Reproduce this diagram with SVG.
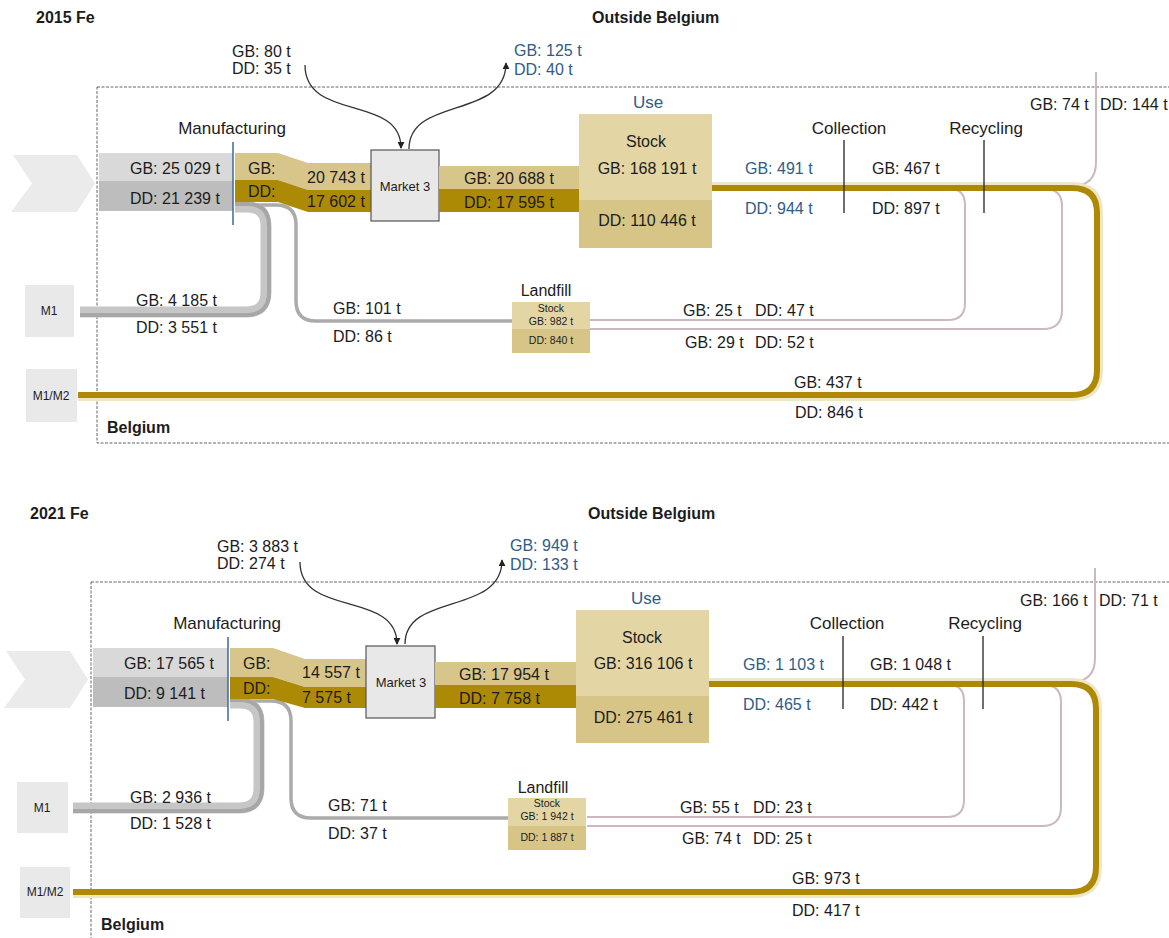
<svg xmlns="http://www.w3.org/2000/svg" width="1169" height="938" viewBox="0 0 1169 938">
<defs>
<style>
.t{font-family:"Liberation Sans",Arial,sans-serif;font-size:16px;fill:#1c1c1c;dominant-baseline:central}
.b{font-weight:bold;font-size:16px}
.blue{fill:#2f5c86}
.h{font-size:17px}
.m{font-size:13px}
.s{font-size:10.5px}
.bx{font-size:12px}
.mid{text-anchor:middle}
.gb{fill:#d8c58a}
.dd{fill:#ad8a06}
.useU{fill:#e3d6a4}
.useL{fill:#d6c587}
.grayGB{fill:#d9d9d9}
.grayDD{fill:#bdbdbd}
.chev{fill:#ebebeb}
.mbox{fill:#e9e9e9}
.market{fill:#e8e8e8;stroke:#555;stroke-width:1.2}
.dash{fill:none;stroke:#666;stroke-width:1;stroke-dasharray:3 1.5}
.pink{fill:none;stroke:#cbb8c1;stroke-width:2}
.gold{fill:none;stroke:#ad8905;stroke-width:6}
.halo{fill:none;stroke:#ede7c6;stroke-width:5}
.grayT{fill:none;stroke:#c6c6c6;stroke-width:11}
.grayD{fill:none;stroke:#a7a7a7;stroke-width:4}
.grayS{fill:none;stroke:#ababab;stroke-width:3.5}
.arc{fill:none;stroke:#333;stroke-width:1.3}
.tick{stroke:#222;stroke-width:1.3}
.bluetick{stroke:#3d6a99;stroke-width:1.5}
</style>
<marker id="ah" viewBox="0 0 8 8" refX="7" refY="4" markerUnits="userSpaceOnUse" markerWidth="7" markerHeight="7" orient="auto">
<path d="M0,0 L8,4 L0,8 z" fill="#222"/>
</marker>
</defs>
<rect width="1169" height="938" fill="#fff"/>

<!-- ===== 2015 ===== -->
<g id="fe2015">
<text class="t b" x="36" y="17">2015 Fe</text>
<text class="t b" x="592" y="17">Outside Belgium</text>
<rect class="dash" x="97" y="87" width="1110" height="356"/>
<text class="t b" x="107" y="427">Belgium</text>

<g id="connectors-2015">
<!-- import / export arcs around Market 3 -->
<path class="arc" d="M305,65 C305,122 401,94 401,148" marker-end="url(#ah)"/>
<path class="arc" d="M409,149 C409,96 506,120 506,63" marker-end="url(#ah)"/>
<!-- export after recycling -->
<path class="pink" d="M1096,72 V162 Q1096,186 1072,186"/>
<!-- returns to landfill -->
<path class="pink" d="M950,189 Q965,189 965,205 V303 Q965,320 948,320 H590"/>
<path class="pink" d="M1045,189 Q1062,189 1062,206 V310 Q1062,329 1043,329 H590"/>
<!-- recycled scrap loop -->
<path class="halo" d="M712,184.5 H1072 Q1100.5,184.5 1100.5,212 V370 Q1100.5,398.5 1072,398.5 H78"/>
<path class="gold" d="M712,188 H1072 Q1097,188 1097,213 V370 Q1097,395 1072,395 H78"/>
<!-- manufacturing losses -->
<path class="grayS" d="M235,205 H276 Q296,205 296,225 V301 Q296,321 316,321 H512"/>
<path class="grayT" d="M235,207 H247 Q266,207 266,226 V292 Q266,312 246,312 H80"/>
<path class="grayD" d="M235,204 H247 Q269,204 269,226 V292 Q269,315 246,315 H80"/>
</g>

<g id="source-2015">
<polygon class="chev" points="13,155 77,155 95,183.5 77,212 11,212 32,183.5"/>
</g>

<g id="manufacturing-2015">
<rect class="grayGB" x="99" y="153" width="134" height="28"/>
<rect class="grayDD" x="99" y="181" width="134" height="30"/>
<text class="t" x="130" y="168">GB: 25 029 t</text>
<text class="t" x="130" y="198">DD: 21 239 t</text>
<line class="bluetick" x1="233" y1="142" x2="233" y2="225"/>
<text class="t h mid" x="232" y="128">Manufacturing</text>
</g>

<g id="flow-mfg-market-2015">
<polygon class="gb" points="235,153 278,153 308,163 371,163 371,190 308,190 278,180 235,180"/>
<polygon class="dd" points="235,180 278,180 308,190 371,190 371,212 308,212 278,202 235,202"/>
<text class="t" x="248" y="168">GB:</text>
<text class="t" x="307" y="177">20 743 t</text>
<text class="t" x="248" y="191">DD:</text>
<text class="t" x="307" y="201">17 602 t</text>
</g>

<g id="market-2015">
<rect class="market" x="371" y="150" width="68" height="71"/>
<text class="t m mid" x="405" y="186">Market 3</text>
<text class="t" x="232" y="51">GB: 80 t</text>
<text class="t" x="232" y="68">DD: 35 t</text>
<text class="t blue" x="514" y="50">GB: 125 t</text>
<text class="t blue" x="514" y="69">DD: 40 t</text>
</g>

<g id="flow-market-use-2015">
<rect class="gb" x="439" y="166" width="140" height="23"/>
<rect class="dd" x="439" y="189" width="140" height="23"/>
<text class="t" x="464" y="178">GB: 20 688 t</text>
<text class="t" x="464" y="202">DD: 17 595 t</text>
</g>

<g id="use-2015">
<rect class="useU" x="579" y="114" width="133" height="86"/>
<rect class="useL" x="579" y="200" width="133" height="48"/>
<text class="t h blue mid" x="648" y="102">Use</text>
<text class="t mid" x="646" y="141">Stock</text>
<text class="t mid" x="647" y="168">GB: 168 191 t</text>
<text class="t mid" x="647" y="220">DD: 110 446 t</text>
</g>

<g id="collection-2015">
<line class="tick" x1="844" y1="140" x2="844" y2="213"/>
<text class="t h mid" x="849" y="128">Collection</text>
<text class="t blue" x="745" y="168">GB: 491 t</text>
<text class="t blue" x="745" y="208">DD: 944 t</text>
</g>

<g id="recycling-2015">
<line class="tick" x1="984" y1="140" x2="984" y2="213"/>
<text class="t h mid" x="986" y="128">Recycling</text>
<text class="t" x="872" y="168">GB: 467 t</text>
<text class="t" x="872" y="208">DD: 897 t</text>
<text class="t" x="1030" y="104">GB: 74 t</text>
<text class="t" x="1100" y="104">DD: 144 t</text>
</g>

<g id="landfill-2015">
<rect class="useU" x="512" y="302" width="78" height="27"/>
<rect class="useL" x="512" y="329" width="78" height="24"/>
<text class="t mid" x="546" y="290">Landfill</text>
<text class="t s mid" x="551" y="308">Stock</text>
<text class="t s mid" x="551" y="321">GB: 982 t</text>
<text class="t s mid" x="551" y="340">DD: 840 t</text>
<text class="t" x="333" y="308">GB: 101 t</text>
<text class="t" x="333" y="336">DD: 86 t</text>
<text class="t" x="683" y="310">GB: 25 t</text>
<text class="t" x="755" y="310">DD: 47 t</text>
<text class="t" x="685" y="342">GB: 29 t</text>
<text class="t" x="755" y="342">DD: 52 t</text>
</g>

<g id="m1-2015">
<rect class="mbox" x="25" y="285" width="49" height="52"/>
<text class="t bx mid" x="49" y="311">M1</text>
<text class="t" x="136" y="300">GB: 4 185 t</text>
<text class="t" x="136" y="327">DD: 3 551 t</text>
</g>

<g id="m1m2-2015">
<rect class="mbox" x="26" y="369" width="51" height="53"/>
<text class="t bx mid" x="51" y="396">M1/M2</text>
<text class="t" x="794" y="382">GB: 437 t</text>
<text class="t" x="795" y="412">DD: 846 t</text>
</g>
</g>

<!-- ===== 2021 ===== -->
<g id="fe2021">
<text class="t b" x="30" y="513">2021 Fe</text>
<text class="t b" x="588" y="513">Outside Belgium</text>
<rect class="dash" x="91" y="582" width="1120" height="400"/>
<text class="t b" x="101" y="924">Belgium</text>

<g id="connectors-2021">
<path class="arc" d="M300,562 C300,618 397,590 397,644" marker-end="url(#ah)"/>
<path class="arc" d="M405,644 C405,592 502,616 502,560" marker-end="url(#ah)"/>
<path class="pink" d="M1095,568 V658 Q1095,682 1071,682"/>
<path class="pink" d="M949,685 Q964,685 964,701 V800 Q964,817 947,817 H587"/>
<path class="pink" d="M1044,685 Q1061,685 1061,702 V807 Q1061,826 1042,826 H587"/>
<path class="halo" d="M709,680.5 H1071 Q1099.5,680.5 1099.5,709 V867 Q1099.5,895.5 1071,895.5 H73"/>
<path class="gold" d="M709,684 H1071 Q1096,684 1096,709 V867 Q1096,892 1071,892 H73"/>
<path class="grayS" d="M230,701 H271 Q291,701 291,721 V798 Q291,818 311,818 H508"/>
<path class="grayT" d="M230,703 H240 Q259,703 259,722 V788 Q259,808 239,808 H73"/>
<path class="grayD" d="M230,700 H240 Q262,700 262,722 V788 Q262,811 239,811 H73"/>
</g>

<g id="source-2021">
<polygon class="chev" points="6,651 70,651 88,679.5 70,708 4,708 25,679.5"/>
</g>

<g id="manufacturing-2021">
<rect class="grayGB" x="93" y="648" width="135" height="29"/>
<rect class="grayDD" x="93" y="677" width="135" height="30"/>
<text class="t" x="124" y="663">GB: 17 565 t</text>
<text class="t" x="124" y="693">DD: 9 141 t</text>
<line class="bluetick" x1="228" y1="637" x2="228" y2="721"/>
<text class="t h mid" x="227" y="623">Manufacturing</text>
</g>

<g id="flow-mfg-market-2021">
<polygon class="gb" points="230,648 273,648 305,659 366,659 366,687 305,687 273,677 230,677"/>
<polygon class="dd" points="230,677 273,677 305,687 366,687 366,708 305,708 273,699 230,699"/>
<text class="t" x="243" y="663">GB:</text>
<text class="t" x="302" y="672">14 557 t</text>
<text class="t" x="243" y="688">DD:</text>
<text class="t" x="302" y="697">7 575 t</text>
</g>

<g id="market-2021">
<rect class="market" x="366" y="646" width="69" height="72"/>
<text class="t m mid" x="401" y="682">Market 3</text>
<text class="t" x="217" y="546">GB: 3 883 t</text>
<text class="t" x="217" y="563">DD: 274 t</text>
<text class="t blue" x="510" y="545">GB: 949 t</text>
<text class="t blue" x="510" y="564">DD: 133 t</text>
</g>

<g id="flow-market-use-2021">
<rect class="gb" x="435" y="662" width="141" height="23"/>
<rect class="dd" x="435" y="685" width="141" height="23"/>
<text class="t" x="459" y="674">GB: 17 954 t</text>
<text class="t" x="459" y="698">DD: 7 758 t</text>
</g>

<g id="use-2021">
<rect class="useU" x="576" y="610" width="133" height="86"/>
<rect class="useL" x="576" y="696" width="133" height="47"/>
<text class="t h blue mid" x="646" y="598">Use</text>
<text class="t mid" x="642" y="637">Stock</text>
<text class="t mid" x="643" y="663">GB: 316 106 t</text>
<text class="t mid" x="643" y="717">DD: 275 461 t</text>
</g>

<g id="collection-2021">
<line class="tick" x1="843" y1="636" x2="843" y2="709"/>
<text class="t h mid" x="847" y="623">Collection</text>
<text class="t blue" x="743" y="664">GB: 1 103 t</text>
<text class="t blue" x="743" y="704">DD: 465 t</text>
</g>

<g id="recycling-2021">
<line class="tick" x1="983" y1="636" x2="983" y2="709"/>
<text class="t h mid" x="985" y="623">Recycling</text>
<text class="t" x="870" y="664">GB: 1 048 t</text>
<text class="t" x="870" y="704">DD: 442 t</text>
<text class="t" x="1020" y="600">GB: 166 t</text>
<text class="t" x="1099" y="600">DD: 71 t</text>
</g>

<g id="landfill-2021">
<rect class="useU" x="508" y="798" width="78" height="28"/>
<rect class="useL" x="508" y="826" width="78" height="24"/>
<text class="t mid" x="543" y="787">Landfill</text>
<text class="t s mid" x="547" y="803">Stock</text>
<text class="t s mid" x="547" y="816">GB: 1 942 t</text>
<text class="t s mid" x="547" y="837">DD: 1 887 t</text>
<text class="t" x="328" y="805">GB: 71 t</text>
<text class="t" x="328" y="833">DD: 37 t</text>
<text class="t" x="680" y="807">GB: 55 t</text>
<text class="t" x="753" y="807">DD: 23 t</text>
<text class="t" x="682" y="838">GB: 74 t</text>
<text class="t" x="753" y="838">DD: 25 t</text>
</g>

<g id="m1-2021">
<rect class="mbox" x="17" y="782" width="51" height="51"/>
<text class="t bx mid" x="42" y="808">M1</text>
<text class="t" x="130" y="797">GB: 2 936 t</text>
<text class="t" x="130" y="823">DD: 1 528 t</text>
</g>

<g id="m1m2-2021">
<rect class="mbox" x="20" y="867" width="50" height="51"/>
<text class="t bx mid" x="45" y="892">M1/M2</text>
<text class="t" x="792" y="878">GB: 973 t</text>
<text class="t" x="792" y="910">DD: 417 t</text>
</g>
</g>
</svg>
